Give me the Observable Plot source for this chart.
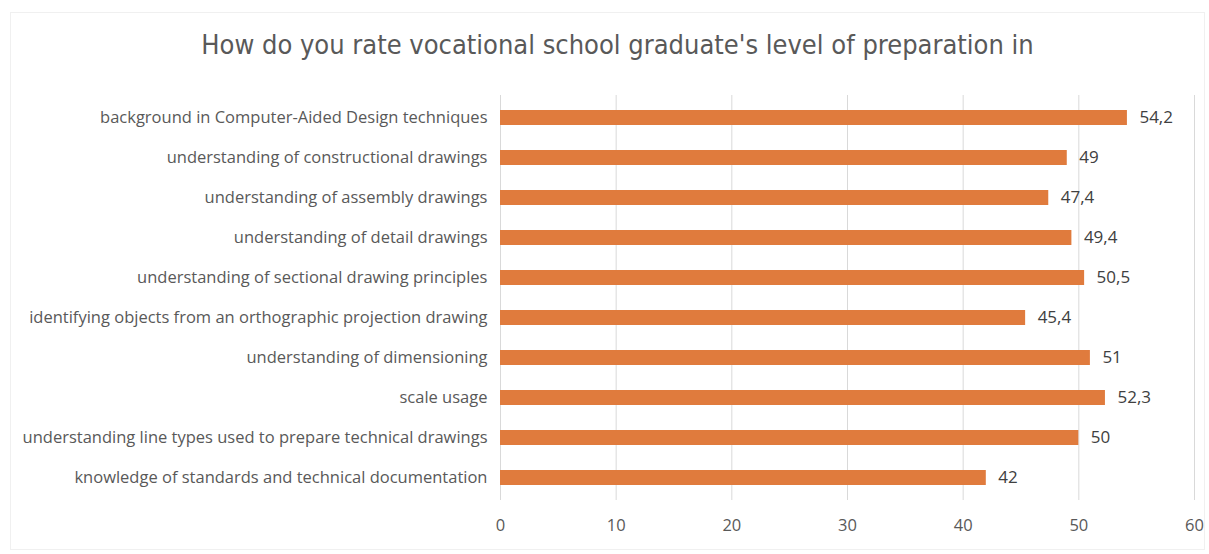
<!DOCTYPE html>
<html>
<head>
<meta charset="utf-8">
<script src="https://cdn.jsdelivr.net/npm/d3@7"></script>
<script src="https://cdn.jsdelivr.net/npm/@observablehq/plot@0.6"></script>
<style>
  html, body { margin: 0; padding: 0; background: #fff; }
  #card { position: absolute; left: 10px; top: 12px; width: 1195px; height: 538px; border: 1px solid #f0f0f0; box-sizing: border-box; }
  #title { position: absolute; left: 0; top: 29px; width: 1235px; text-align: center; font-family: "Liberation Sans Narrow", "DejaVu Sans Condensed", sans-serif; font-size: 27px; color: #595959; }
  #chart { position: absolute; left: 0; top: 80px; }
</style>
</head>
<body>
<div id="card"></div>
<div id="title">How do you rate vocational school graduate's level of preparation in</div>
<div id="chart"></div>
<script>
const categories = [
  "background in Computer-Aided Design techniques",
  "understanding of constructional drawings",
  "understanding of assembly drawings",
  "understanding of detail drawings",
  "understanding of sectional drawing principles",
  "identifying objects from an orthographic projection drawing",
  "understanding of dimensioning",
  "scale usage",
  "understanding line types used to prepare technical drawings",
  "knowledge of standards and technical documentation"
];
const values = [54.2, 49, 47.4, 49.4, 50.5, 45.4, 51, 52.3, 50, 42];
const labels = ["54,2", "49", "47,4", "49,4", "50,5", "45,4", "51", "52,3", "50", "42"];
const xTicks = [0, 10, 20, 30, 40, 50, 60];

const data = categories.map((c, i) => ({category: c, value: values[i], label: labels[i]}));
const font = "'Open Sans', Lato, sans-serif";

const chart = Plot.plot({
  width: 1209,
  height: 474,
  marginLeft: 500,
  marginRight: 15,
  marginTop: 15,
  marginBottom: 54,
  style: {fontFamily: font, fontSize: "16.5px", color: "#595959", background: "transparent"},
  x: {domain: [0, 60], ticks: xTicks, label: null, tickSize: 0, tickPadding: 19},
  y: {domain: categories, label: null, tickSize: 0, tickPadding: 13, paddingInner: 0.62, paddingOuter: 0.31},
  marks: [
    Plot.gridX(xTicks, {stroke: "#d9d9d9", strokeOpacity: 1, strokeWidth: 1}),
    Plot.barX(data, {y: "category", x: "value", fill: "#E07B3D"}),
    Plot.text(data, {y: "category", x: "value", text: "label", textAnchor: "start", dx: 12, fill: "#404040", fontSize: 17})
  ]
});
document.getElementById("chart").appendChild(chart);
</script>
</body>
</html>
